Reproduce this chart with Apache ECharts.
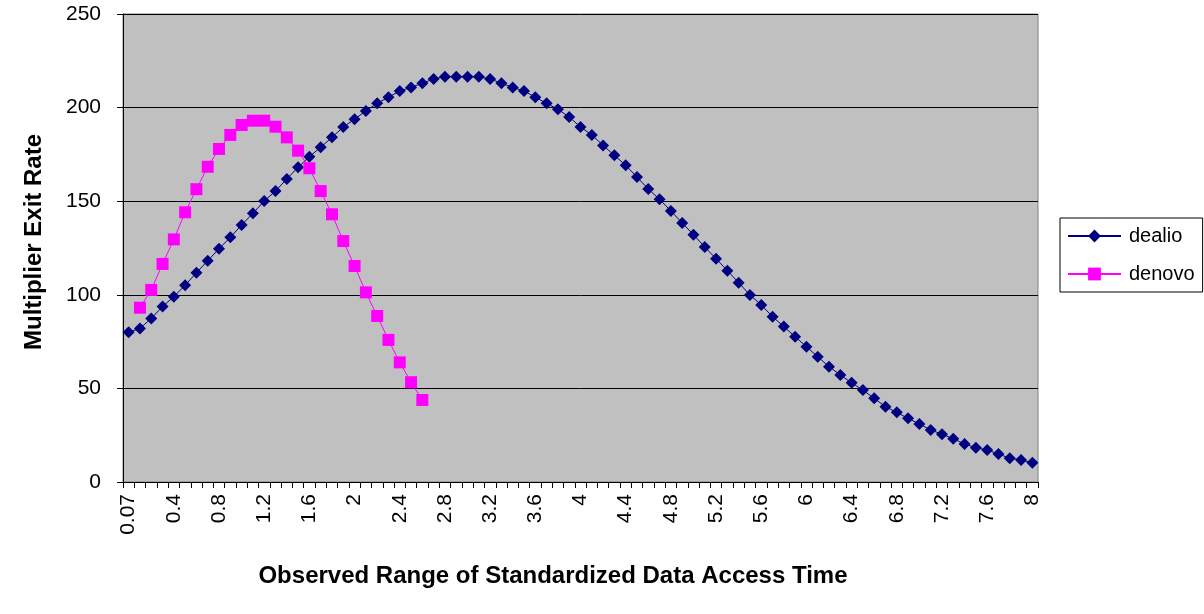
<!DOCTYPE html>
<html>
<head>
<meta charset="utf-8">
<script src="https://cdn.jsdelivr.net/npm/echarts@6/dist/echarts.min.js"></script>
<style>
html,body{margin:0;padding:0;background:#fff;}
#chart{width:1204px;height:614px;}
</style>
</head>
<body>
<div id="chart"></div>
<script>
// Categories: observed range values
const categories = ['0.07','0.1','0.2','0.3','0.4','0.5','0.6','0.7','0.8','0.9','1','1.1','1.2','1.3','1.4','1.5','1.6','1.7','1.8','1.9','2','2.1','2.2','2.3','2.4','2.5','2.6','2.7','2.8','2.9','3','3.1','3.2','3.3','3.4','3.5','3.6','3.7','3.8','3.9','4','4.1','4.2','4.3','4.4','4.5','4.6','4.7','4.8','4.9','5','5.1','5.2','5.3','5.4','5.5','5.6','5.7','5.8','5.9','6','6.1','6.2','6.3','6.4','6.5','6.6','6.7','6.8','6.9','7','7.1','7.2','7.3','7.4','7.5','7.6','7.7','7.8','7.9','8'];

const dealio = [80,82,87.4,93.7,99,105.1,111.8,118.2,124.6,130.7,137.3,143.5,150.1,155.4,161.9,168.1,173.8,178.8,184.1,189.6,193.8,198.2,202.3,205.5,208.9,210.8,213,215.3,216.5,216.5,216.5,216.5,215.3,213,210.8,208.9,205.5,202.3,199.1,195,189.6,185.4,179.8,174.5,169.2,162.9,156.5,151,144.8,138.4,132.1,125.5,119.3,112.9,106.5,99.9,94.6,88.3,83,77.6,72.3,66.9,61.6,57.2,53,49.1,44.7,40.2,37.2,34,31,27.8,25.5,23.1,20.3,18.3,17.1,15,12.7,11.8,10.3];

const denovo = [null,93.1,102.6,116.5,129.6,144.1,156.4,168.4,177.9,185.4,190.7,193,193,189.8,184.1,177,167.6,155.4,143,128.7,115.4,101.3,88.7,75.9,63.9,53.3,43.8];

const yTicks = {min: 0, max: 250, interval: 50};

const xTitle = 'Observed Range of Standardized Data Access Time';
const yTitle = 'Multiplier Exit Rate';

const FONT = '"Liberation Sans", Arial, sans-serif';

const chart = echarts.init(document.getElementById('chart'), null, {renderer: 'canvas'});
chart.setOption({
  animation: false,
  backgroundColor: '#ffffff',
  grid: {
    left: 123, top: 14, right: 166, bottom: 132,
    show: true, backgroundColor: '#C0C0C0', borderColor: '#808080', borderWidth: 1
  },
  legend: {
    orient: 'vertical',
    left: 1060, top: 218,
    backgroundColor: '#ffffff',
    borderColor: '#000000', borderWidth: 1,
    padding: [8, 8, 8, 7],
    itemWidth: 53, itemHeight: 16, itemGap: 18,
    textStyle: {fontFamily: FONT, fontSize: 20, color: '#000', lineHeight: 20, padding: [0, 0, 0, 3]},
    data: ['dealio', 'denovo']
  },
  xAxis: {
    type: 'category',
    data: categories,
    boundaryGap: true,
    axisLine: {lineStyle: {color: '#000', width: 1}},
    axisTick: {show: true, interval: 0, length: 6, lineStyle: {color: '#000'}},
    axisLabel: {
      interval: 3, rotate: 90, margin: 12,
      fontFamily: FONT, fontSize: 21, color: '#000'
    },
    splitLine: {show: false}
  },
  yAxis: {
    type: 'value',
    min: yTicks.min, max: yTicks.max, interval: yTicks.interval,
    axisLine: {show: true, lineStyle: {color: '#000', width: 1}},
    axisTick: {show: true, length: 6, lineStyle: {color: '#000'}},
    axisLabel: {margin: 22, fontFamily: FONT, fontSize: 21, color: '#000'},
    splitLine: {show: true, lineStyle: {color: '#000', width: 1}}
  },
  graphic: [
    {
      type: 'text', x: 553, y: 576,
      style: {text: xTitle, fontFamily: FONT, fontSize: 24, fontWeight: 'bold', fill: '#000', textAlign: 'center', textVerticalAlign: 'middle'}
    },
    {
      type: 'text', x: 34, y: 242, rotation: Math.PI / 2,
      style: {text: yTitle, fontFamily: FONT, fontSize: 24, fontWeight: 'bold', fill: '#000', textAlign: 'center', textVerticalAlign: 'middle'}
    }
  ],
  series: [
    {
      name: 'dealio', type: 'line', data: dealio,
      symbol: 'diamond', symbolSize: 12, showAllSymbol: true,
      itemStyle: {color: '#000080'},
      lineStyle: {color: '#000080', width: 1},
      connectNulls: false
    },
    {
      name: 'denovo', type: 'line', data: denovo,
      symbol: 'rect', symbolSize: 12, showAllSymbol: true,
      itemStyle: {color: '#FF00FF'},
      lineStyle: {color: '#FF00FF', width: 1},
      connectNulls: false
    }
  ]
});
</script>
</body>
</html>
